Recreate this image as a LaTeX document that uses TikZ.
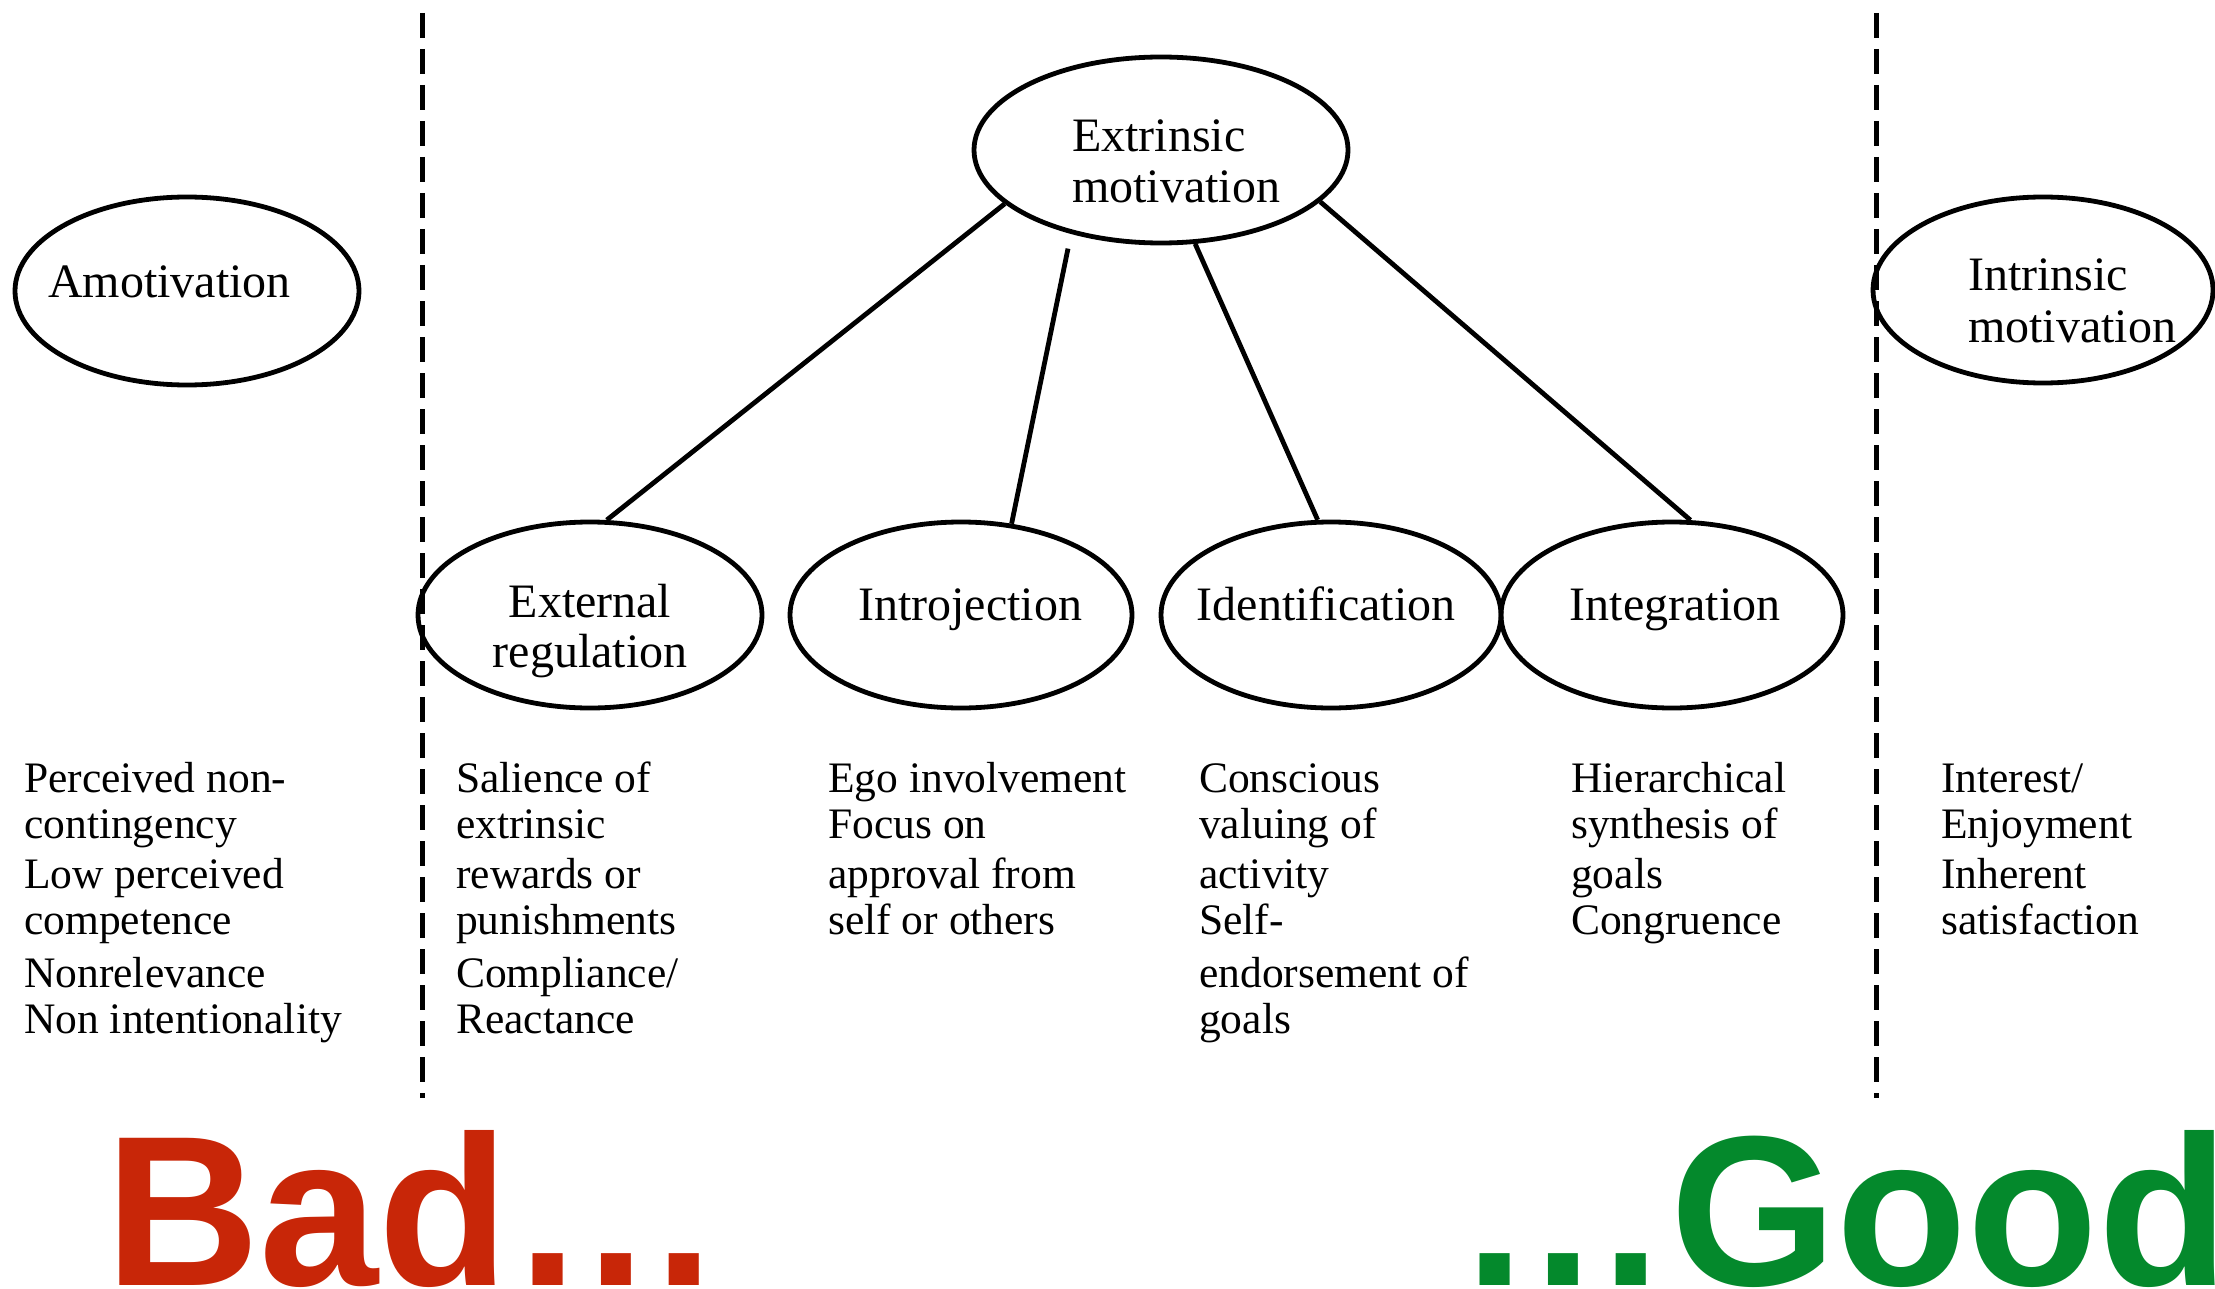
\documentclass[tikz,border=0pt]{standalone}
\usepackage{fontspec}
\setmainfont{Liberation Serif}
\newfontfamily\bigfont{Liberation Sans}
\usetikzlibrary{shapes.geometric}
\definecolor{badred}{RGB}{200,38,8}
\definecolor{goodgreen}{RGB}{4,137,44}

\begin{document}
\begin{tikzpicture}[x=1pt,y=-1pt,
  oval/.style={ellipse, draw, line width=4.8pt, inner sep=0pt, minimum height=186pt},
  lbl/.style={inner sep=0pt, font=\fontsize{48}{51}\selectfont},
  body/.style={inner sep=0pt, anchor=base west, font=\fontsize{43.5}{46}\selectfont},
  link/.style={line width=4.8pt},
  divider/.style={line width=5pt, dash pattern=on 25pt off 11pt},
  slogan/.style={inner sep=0pt, anchor=base west, font=\bigfont\bfseries\fontsize{214}{214}\selectfont}
]
\useasboundingbox (0,0) rectangle (2215,1289);

% dashed separators between the three regions
\coordinate (ltop) at (422,13);
\coordinate (lbot) at (422,1098);
\coordinate (rtop) at (1876,13);
\coordinate (rbot) at (1876,1098);
\draw[divider] (ltop) -- (lbot);
\draw[divider] (rtop) -- (rbot);

% ellipses
\node[oval, minimum width=344pt, minimum height=188pt] (amo) at (187,291) {};
\node[oval, minimum width=374pt] (ext) at (1161,150) {};
\node[oval, minimum width=340pt] (intr) at (2043,290) {};
\node[oval, minimum width=344pt] (ereg) at (590,615) {};
\node[oval, minimum width=342pt] (intro) at (961,615) {};
\node[oval, minimum width=340pt] (ident) at (1331,615) {};
\node[oval, minimum width=342pt] (integ) at (1672,615) {};

% ellipse labels
\node[lbl, anchor=base west] (amotxt) at (48,297) {Amotivation};
\node[lbl, anchor=base west] (exttxta) at (1072,152) {Extrinsic};
\node[lbl, anchor=base west] (exttxtb) at (1072,203) {motivation};
\node[lbl, anchor=base west] (intrtxta) at (1968,290) {Intrinsic};
\node[lbl, anchor=base west] (intrtxtb) at (1968,342) {motivation};
\node[lbl, anchor=base] (eregtxta) at (590,617) {External};
\node[lbl, anchor=base] (eregtxtb) at (590,667) {regulation};
\node[lbl, anchor=base] (introtxt) at (970,620) {Introjection};
\node[lbl, anchor=base] (identtxt) at (1326,620) {Identification};
\node[lbl, anchor=base] (integtxt) at (1675,620) {Integration};

% connectors from extrinsic motivation to its four forms
\draw[link] (ext.199) -- (ereg.80);
\draw[link, shorten <=15pt] (ext.223) -- (intro.61);
\draw[link] (ext.290) -- (ident.98);
\draw[link] (ext.342) -- (integ.79);

% descriptions below each form
\node[body] (a1) at (24,792) {Perceived non-};
\node[body] (a2) at (24,838) {contingency};
\node[body] (a3) at (24,888) {Low perceived};
\node[body] (a4) at (24,934) {competence};
\node[body] (a5) at (24,987) {Nonrelevance};
\node[body] (a6) at (24,1033) {Non intentionality};

\node[body] (b1) at (456,792) {Salience of};
\node[body] (b2) at (456,838) {extrinsic};
\node[body] (b3) at (456,888) {rewards or};
\node[body] (b4) at (456,934) {punishments};
\node[body] (b5) at (456,987) {Compliance/};
\node[body] (b6) at (456,1033) {Reactance};

\node[body] (c1) at (828,792) {Ego involvement};
\node[body] (c2) at (828,838) {Focus on};
\node[body] (c3) at (828,888) {approval from};
\node[body] (c4) at (828,934) {self or others};

\node[body] (d1) at (1199,792) {Conscious};
\node[body] (d2) at (1199,838) {valuing of};
\node[body] (d3) at (1199,888) {activity};
\node[body] (d4) at (1199,934) {Self-};
\node[body] (d5) at (1199,987) {endorsement of};
\node[body] (d6) at (1199,1033) {goals};

\node[body] (e1) at (1571,792) {Hierarchical};
\node[body] (e2) at (1571,838) {synthesis of};
\node[body] (e3) at (1571,888) {goals};
\node[body] (e4) at (1571,934) {Congruence};

\node[body] (f1) at (1941,792) {Interest/};
\node[body] (f2) at (1941,838) {Enjoyment};
\node[body] (f3) at (1941,888) {Inherent};
\node[body] (f4) at (1941,934) {satisfaction};

% slogans along the bottom edge, running off the page as printed
\node[slogan, text=badred] (bad) at (105,1285) {Bad\char"2026};
\node[slogan, text=goodgreen] (good) at (1456,1285) {\char"2026 Good};
\end{tikzpicture}
\end{document}
